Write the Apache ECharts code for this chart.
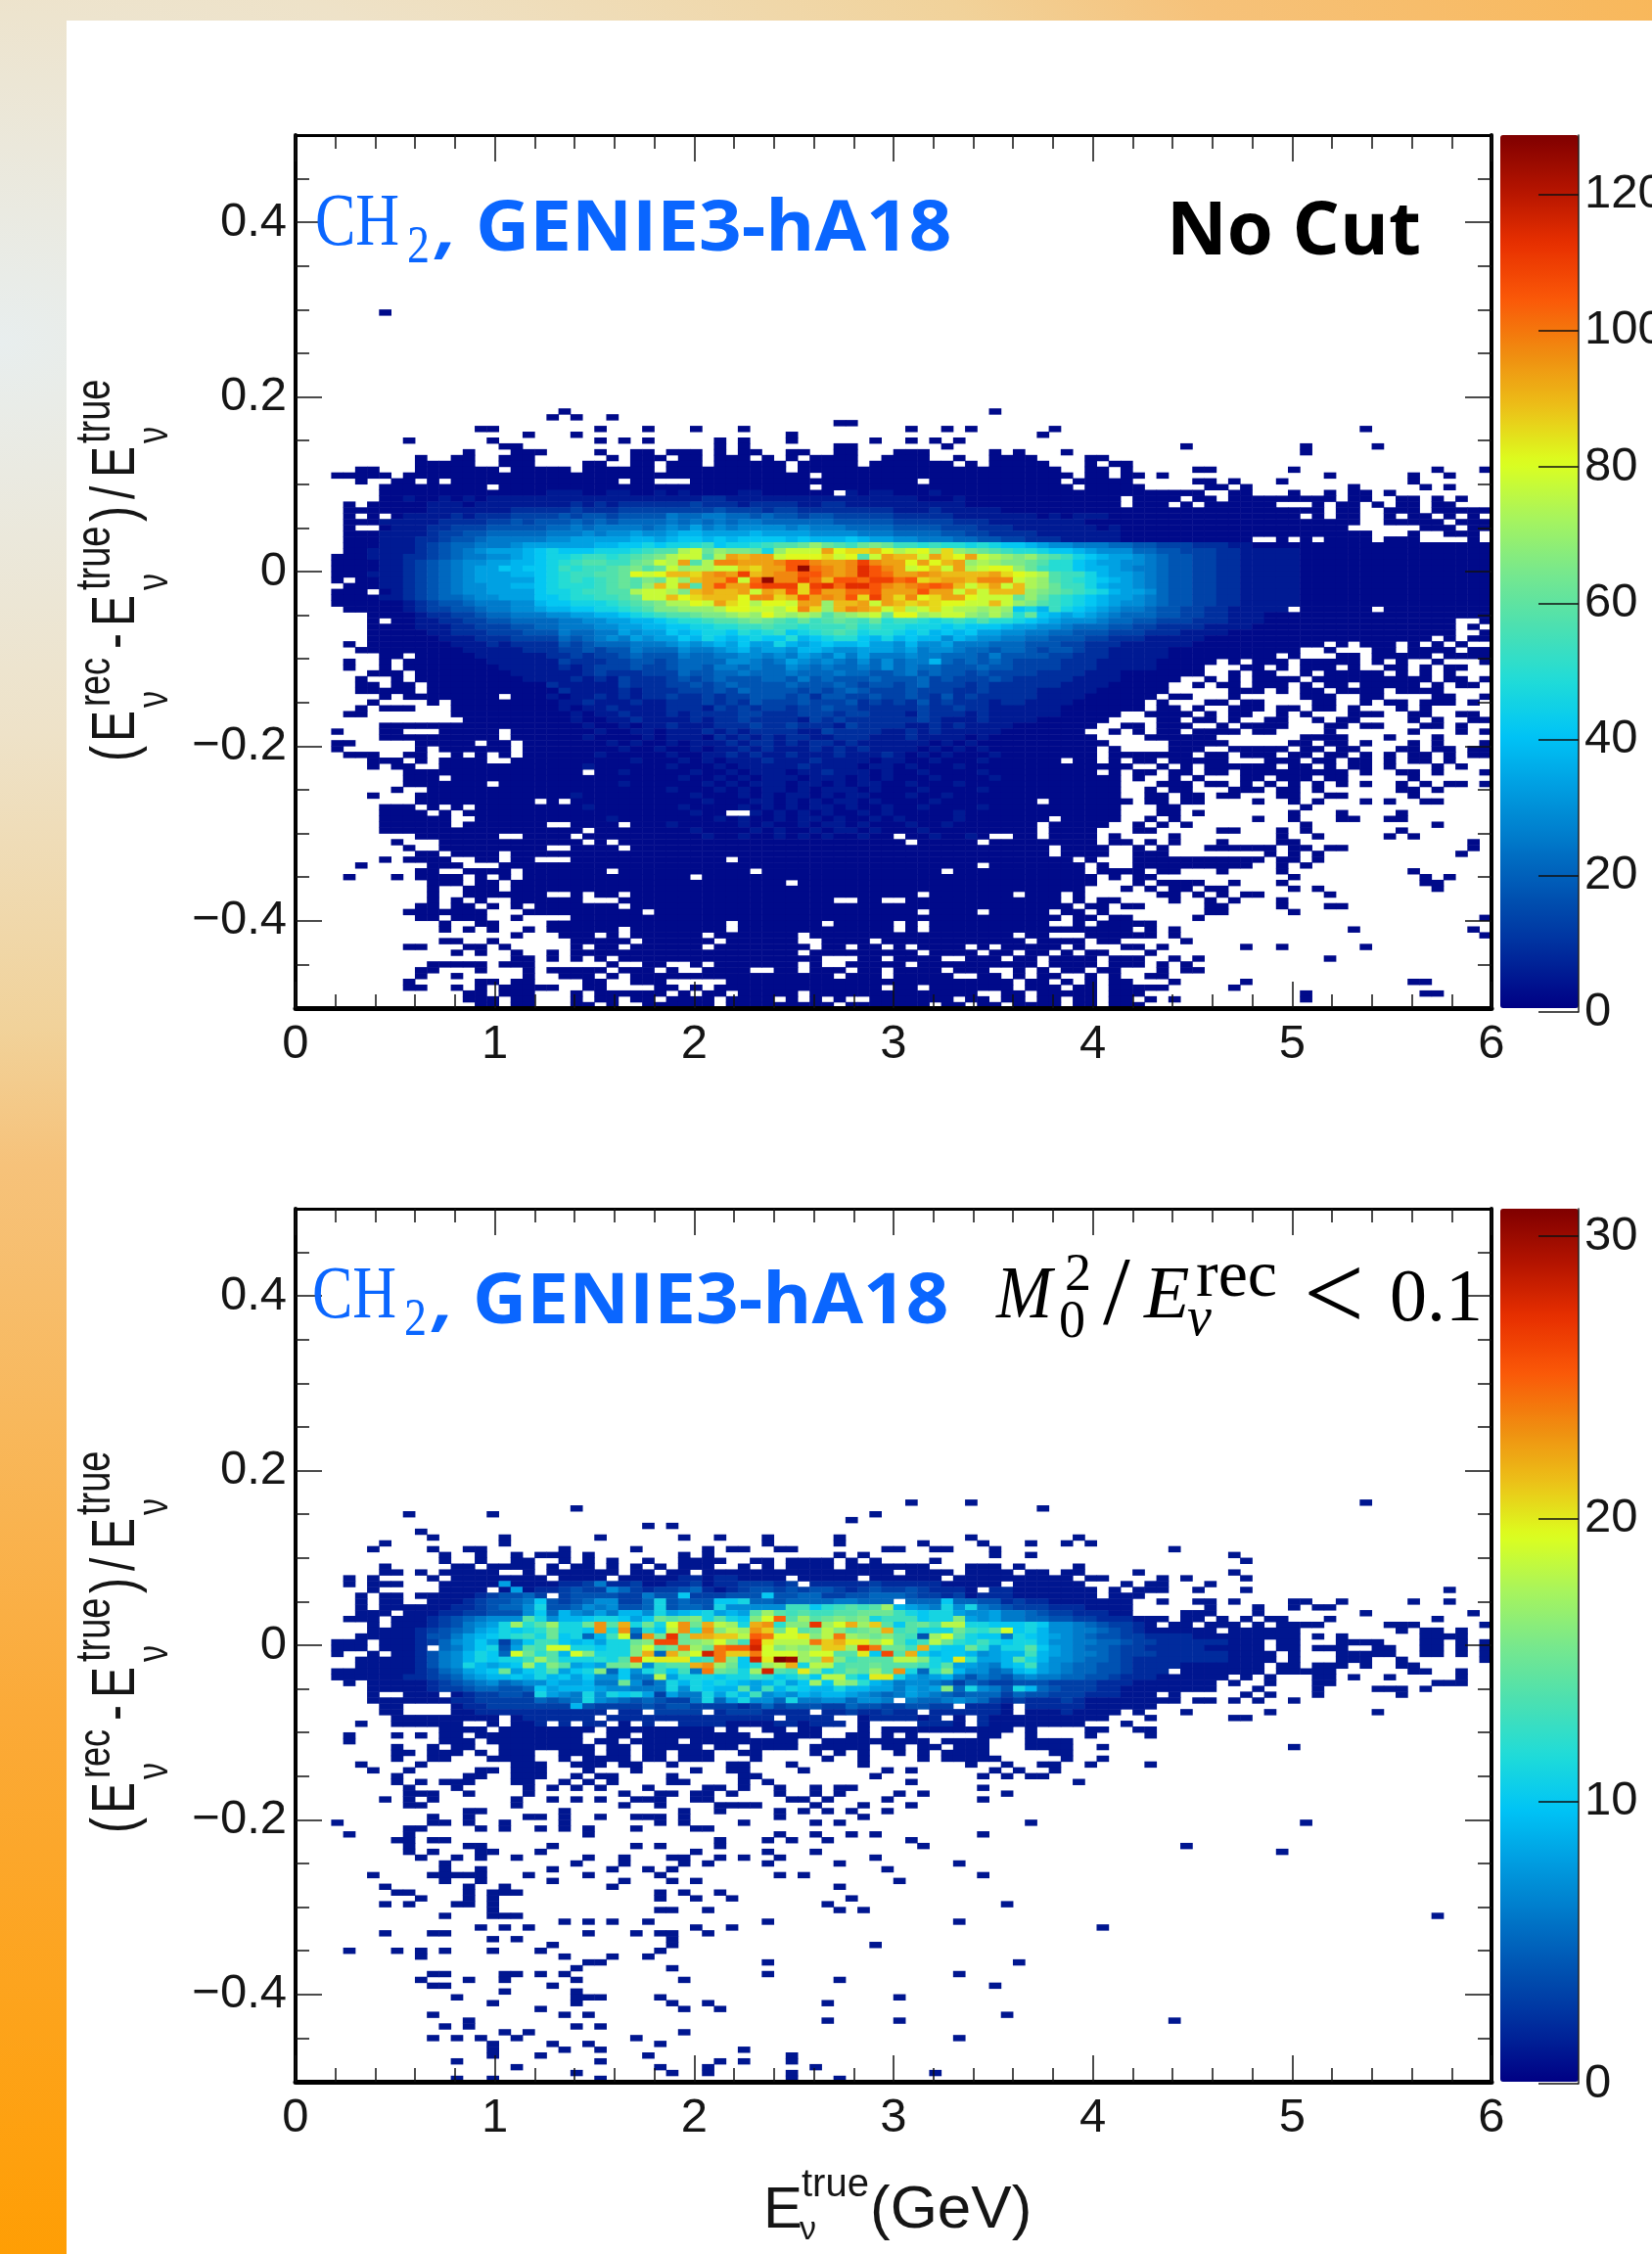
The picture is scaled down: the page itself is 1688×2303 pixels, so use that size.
<!DOCTYPE html>
<html><head><meta charset="utf-8">
<style>
html,body{margin:0;padding:0;width:1688px;height:2303px;overflow:hidden;
background:radial-gradient(ellipse 3200px 2000px at 0 350px,#e8eeee 0%,#eee2c8 20%,#f1d29a 35%,#f6c27a 42%,#f8b85c 55%,#fbaa38 70%,#ff9d00 100%);}
#sheet{position:absolute;left:68px;top:21px;right:0;bottom:0;background:#fff;}
#chart{position:absolute;left:0;top:0;width:1688px;height:2303px;}
</style></head><body><div id="sheet"></div><div id="chart"></div>
<script src="https://cdn.jsdelivr.net/npm/echarts@6/dist/echarts.min.js"></script>
<script>
// ---- data ----
const xMajor = [0,1,2,3,4,5,6];
const yMajor = [-0.4,-0.2,0,0.2,0.4];
const yMinor = [-0.45,-0.35,-0.3,-0.25,-0.15,-0.1,-0.05,0.05,0.1,0.15,0.25,0.3,0.35,0.45];
const barTicksA = [0,20,40,60,80,100,120];
const barTicksB = [0,10,20,30];
const levels = '0123456789abcdefghijklmnopqrstuvwxyz';
const palette = ['#000084','#002a9c','#0050b0','#0076c8','#009ce0','#00c4f6','#20dcd8','#4ce0b0','#78e88c','#a8f45c','#dcff1e','#ecc018','#f08c10','#fa5808','#e83000','#b41400','#800000'];

// Panel A: [row from the top, ten-column groups]; "." no entries, "_" ten empty bins; level i means about 4i+1 entries
const panelARows = [
[30,".......0.."],
[47,"_ _ ..0....... _ _ ........0."],
[48,"_ _ .0.0..0..."],
[49,"_ _ _ _ .....00..."],
[50,"_ .....00... .....0...0 ...0...0.. _ .0..0.0... ...0...... _ .........0"],
[51,"_ .........0 ...0...... _ .0........ _ ..0......."],
[52,".........0 ......0... .....0.0.0 .....0.0.. .0......0. .0.0.0...."],
[53,"_ .......00. _ .....0.0.. .....00... ....0..... _ ....0..... ....0..... 0........."],
[54,"_ ....0...00 0....0..00 .000.0.00. .00..00... 000.....0. 0...0..... _ ....0....."],
[55,"_ 0..00..000 ......0.00 0.00.000.0 .0.0000..0 000..0..00 00....00.."],
[56,"_ 00000..000 ....00..00 .000.00000 0.00000.00 00000.0.00 000...0.00"],
[57,".....00... 0000000.00 000.000000 .000000000 0.00000000 0000000000 0000..00.0 .....00... ...0...... .....0...0"],
[58,"...00000.0 0000000000 0000000000 0000000000 000.000000 0000000000 00000.00.0 0.0....... ......0... ...0..0..."],
[59,".....0..00 .0.0000000 0000000.00 ...0000000 0000000000 00.0000000 0000.00000 .....00.0. ..0....... ...0......"],
[60,".......000 000000.000 0000000000 0000000000 000.000000 0000000000 00000.0000 0.....00.0 ........0. ....0.0..."],
[61,".......000 0000000000 0111001100 1010000110 00000.1011 0001000000 0000000000 000000..00 ...0..0.00 .0........"],
[62,".......001 0010101111 1111111111 1111221111 1111111111 1100010000 000000000. 0000.00.00 0000000.00 ..00.0.0.."],
[63,"....0.0000 0111011111 1112121222 2223222122 2211221111 1111110000 000000000. 000.0.0000 00...0.00. 0.00.00..."],
[64,"....000000 0111111122 2223222333 3333343332 3322222222 1112111110 0000000000 0000000000 000000.00. .000.00000"],
[65,"....0.0.01 1112122233 3343443444 4655665545 4434433333 2222211111 1101011100 0000000000 0000.0.00. .0.00.0.0."],
[66,"....000111 1122223343 4445454555 5656565665 5555544444 3333322211 1111110000 0000000000 000000000. .00000.000"],
[67,"....0..011 1223334444 4556566665 6768676777 7676665555 4444333222 1111111010 0000000000 00000000.. ....000.00"],
[68,"....000111 1233445555 5666767787 7899888898 8887777666 5555443322 2211111110 0000000000 0000000000 ...0..000."],
[69,"....000111 2234456666 6778888899 89aa9a9aaa a9a999a988 7766655443 3222111110 0000000000 ..0.0.0000 .000....0."],
[70,"....000111 2345566678 8888899aab abbcdabbcd eefhfedfgf ddcdccbcba a987766655 4433322211 0000000000 0000000000"],
[71,"....001111 2345678889 abaaabbbcd eeijfhggfb hjjjnkllmk ijkhlhgfed ccbaa98777 5544333221 1111000000 0000000000"],
[72,"...0001112 2345667789 abbcddcdef gijjeinmnn jkkkljkejn mmjnlknjih ghfedba988 7654433221 1111000000 0000000000"],
[73,"...0000112 3456778899 abcdeeddfg jineioonnn oqqonnoron nknkmnhihg gfecca9887 7654433221 1111000000 0000000000"],
[74,"...0000112 3456788a9a abdcddefge fjhiijjmln nqvponosqo njkmjnijkk hfdcca9987 6654433221 1111000000 0000000000"],
[75,"...0001112 3456788899 abcddeefkj kmmlnonrmn ooqqonosqp nnonmmmmnl kjieddb988 7654433221 1111000000 0000000000"],
[76,"...0.00112 3456788888 abcdcdefeg fjhmnnqjpv oorpmqqprr pqlmnnmooo jihedcba98 7654433221 1111000000 0000000000"],
[77,"....000112 3456778899 abcccdefeh mjnenqnnqr rrlrspssqo nopqpmjlnj mihfddb988 7654433221 1111000000 0000000000"],
[78,"...000.012 3456778888 abbcddeeij jigmnmmnjn mqlqnnppqn nnqnnjmjmm mhgfedcb98 8754433221 1111000000 0000000000"],
[79,"...0000112 3455677888 aabccddefj jmklmmmkoo lmqnonqlrn loklnnkjjj fhfdcba988 7654433221 1111000000 0000000000"],
[80,"...0000001 2344566677 9aabbbcdef giikjnlkik kjnnhmmnjn mlmlkkjjmj hgedcba987 7654433221 1111000000 0000000000"],
[81,"....000001 2334456677 899aabbcde gghhhikkjj ikolhmonmj lijljiihih ab9dba9876 6544332211 111.000000 .000000000"],
[82,"......0000 1223345566 6778899abc deefgghihk ihiheghijf kkhijjhgig cfa9898765 5544332211 1000000000 0000000000"],
[83,"......0.00 1122334455 5566778899 abccdeefgf edfdefedfc ddcbcdcecc ba98777655 4433322211 1000000000 0000000..0"],
[84,"......0000 1112233344 5566677889 9aabbccdde ddcdddecdc cbbbabaaa9 8877655544 3322221111 0000000000 0000000.0."],
[85,"......0000 0112223334 4465566878 8a9abbacbc dabcdedbcc bab9a9a887 7665544433 3222111100 0000000000 0000000..0"],
[86,"......0000 0011122233 3354567687 88a9ba9aba ac9abcca9b 9a99798776 6554443322 2111110000 0000000000 00000.0.00"],
[87,"....0.0000 0001112122 2243455566 6787898a88 b989a99a88 7977866655 5444332221 1111100000 000000.0.0 00.0.0.0.."],
[88,".....00000 0000111112 2233434465 5576678978 8799877888 7867765545 5434432211 1110000000 0000..0... 00.0000.00"],
[89,".......00. 0000011111 1223233454 4465566776 7687686866 6766555464 4443322211 1110000000 00.0...00. 00000.0000"],
[90,"....0..0.0 0000001111 1132223344 3455557765 6876765757 5669545454 3333222111 1100000.0. 000.00000. 0.0..0...0"],
[91,"....0..0.0 0000000111 1121233343 3455466565 5765655657 5655444544 3333222111 110000...0 0.0.000.0. .00.0.00.."],
[92,"......000. 0000000011 1111232223 3354455655 5655565544 5645443433 3322221110 000000..0. 00..0.0000 0.0.0.0..."],
[93,".....0..0. 0000000001 1112121322 2343454445 5464544454 4453433343 2222211110 0000..0.0. 0000.00000 00000.00.0"],
[94,".....00.00 .000000000 0211111322 2334345444 4544454344 3453332322 2222111100 000..0.00. 000.0.00.0 0000.0.00."],
[95,".....00000 .000000000 0021111212 2233343544 4434345433 3433322322 2211111000 000.....00 0.0.00.000 0.0000...."],
[96,".......0.0 0000000.00 0101121212 2322323344 4342443343 3432423222 2211110000 00.00...0. ....000..0 0....00..0"],
[97,"......0... .0.0000000 0011211121 1222323243 3343334232 3242322212 2111100000 0.0...00.0 0....00..0 .00.000.0."],
[98,".....0.000 ...0000000 0010112111 1222132323 3233433222 2232232211 1111000000 0.00.0..00 0.00.00.0. ..0.0....."],
[99,"....00.... ...0000000 0001011211 1212222332 2233323322 2132221211 111100000. .0000.0.00 ..0.0...00 0..00..00."],
[100,".......... ....000000 0001001121 1112122322 2213232222 2232111211 11000000.. ..00.00.0. .00..0.00. ...0.0..00"],
[101,".......000 0000000000 0000100101 1211122232 2322213222 2112121111 0000000..0 0.000..0.0 000...00.0 0...00.0.."],
[102,"...0...00. ..00000.00 0000010011 0111212122 2211322221 1212111110 000000..0. 0.00.0000. 00....0... ...0...0.0"],
[103,".......000 0000000.00 0000100001 0111021212 1221122211 1211110100 0000000... .000000... ....0000.. .0...0...."],
[104,"...00..... 00000.00.0 0000001010 0101112122 1212212111 1110101000 00000000.. ...00000.. ...00.00.0 ...0.0...0"],
[105,"...0...... 0.000000.0 0000000100 1001011212 1112121211 1101010100 0000000.0. ...000..00 000.00.00. ..00.00.00"],
[106,"....000..0 0..0.0.0.0 0000010000 0100112121 1211121112 1010100010 0000000.00 00000.00.0 00.00.00.0 .0.00.0.00"],
[107,"......000. 0.0000..00 0000000010 0010101112 1112111101 1001000100 0000.00.0. 00.00000.. .000.00.00 .0.00.0..."],
[108,"......0.00 ..00000000 0000100000 0100010111 1121111011 0100010000 0000000000 ..0.0.0000 00.00.0.00 .0...0.0.."],
[109,".........0 0000000000 0000.00100 0001001011 1011211101 0010000100 0000000.0. 00.00.00.0 00000000.0 ..00.0...0"],
[110,".........0 00.0000000 0000000000 0010010101 1101110101 0001000010 000000000. 0..0.0...0 0.000.00.. ...0......"],
[111,".........0 000000.000 0000000100 0000101011 1011010110 0100010000 000000000. ..000.00.0 .0.0.0.0.0 ..0.0.00.0"],
[112,"........0. .000000000 0000000000 0100010101 1010111010 0010000100 000000000. .0.00...00 0.00.0.... ..00.0...."],
[113,"......0... 0000000000 0001000000 0001000101 0110101100 0100100000 000000000. .00.00.00. ..00..00.. ...0......"],
[114,".......... 0000000000 .0.0000000 0000100011 0101011010 0001000000 00.0000000 .00.00.... 0..0.0...0 .0..00...."],
[115,".......000 .0.0.00000 0000100000 0010000101 0101101001 0010000100 000000000. ..00...... ....0....."],
[116,".......000 0.0.000000 0000000000 000100..10 1010100101 0000010000 000000000. ..00.0.... ...0...0.. ..0......."],
[117,".......000 000..00000 0000001000 0000010100 1011010010 1000010000 000.00000. .0.0...... 0..0...00. .00......."],
[118,".......000 000.000000 0..0000.00 0100000101 0010110100 0100100000 00.00000.. 0.0.0..... ....0..... .....0...."],
[119,".......000 0000000000 0000.00000 0001000010 1001011010 0010000000 00.0000... 00.....00. ..0.0..... ..0......."],
[120,".......... 0000000..0 000.000000 0000100100 1010100100 .0010010.. 00.0000.0. ...0...... ..0..0.... .0.0......"],
[121,"........0. ..00000000 0000.0.000 0000000000 0000000000 0.00000.00 0000000.00 .0.0...0.. ..00...... ........0."],
[122,".........0 ..00000000 0..0000.00 0000000000 0000000000 0000000000 000.0000.. 0.0...0000 00.00.00.. ........0."],
[123,".......... 00.0000.00 0000000000 0000000000 0000000000 0000000000 000.0000.. 000....... .0.0.0.... .......0.."],
[124,".......0.0 000..00.00 ...0000000 000000.000 0000000000 0000000000 00000.0... 0000000000 0.00.0.... .........."],
[125,".....0.... .000...000 0000000000 0000000000 0000000000 0000000.00 000000.0.. 0000000000 ..0.0....."],
[126,".......... 00..0000.0 000000.000 00000000.0 0000000000 0000.00000 000000.000 0.00...0.. ..0....... ...0......"],
[127,"....0...0. 0000.0.0.0 0000000000 000.000000 0000000000 0000000000 0000000.0. 00........ ...0...... ....0.0..."],
[128,".......... .000.00.00 0000000000 0000000000 0.00000000 0000000000 0000000... 0.0000..0. ..0....... ....00...."],
[129,".......... .0..000.00 0000000000 0000000000 0000000000 0000000000 000000...0 .0.00.00.. ...0.0.... .....0...."],
[130,".......... .0..000000 0..0.00.00 0000000000 0000000000 00.0000000 .000.0.... ..00.0.0.0 0.....0..."],
[131,".......... .0.0.0..00 0000...000 0000000000 00000..00. .000000000 0000.0.00. ...0..0.0. ..0......."],
[132,".......... 00.00.0.0. 0000000.00 0000000000 0000000000 0000000000 00000.00.0 0.....00.. ..0...00.. .........."],
[133,".........0 000000...0 000000000. 0000000000 0000000000 00.0000.00 000.00.0.. ......00.. ...0......"],
[134,".......... 00.000..0. ...0000000 0000000000 0000000000 0000000000 0000.00.00 .....0.... .......... .........0"],
[135,".......... ..0..00... .000000000 000000.000 0000.00000 .0.0000000 000..0.000 00........"],
[136,".......... ..0.0.0..0 .000000.00 000000.000 0000000000 .0.0000000 0000000000 .0.0...... ........0. ........0."],
[137,".......... ........0. ..000.0.00 0000.00000 00.0000000 0000000000 .00...0000 00.0...... .......... .........0"],
[138,".......... ..00..0... ...00000.0 00000.0000 00..0000.0 0000000000 0.0000.00. ....0..... .........."],
[139,".........0 0...00.0.. ...0.00.00 0000.00000 000.00.00. 0.0000.0.0 0000.0...0 0.0......0 ..0......0"],
[140,".......... ...0.0..0. .0.0000000 0000000000 00.0000000 00.0000.00 .00.0.00.. .0........"],
[141,".......... ........00 .0.0.0.000 0000000000 0000...00. 0000..000. 00.0000.00 0..0.0.... ......0..."],
[142,".......... .00000.000 ......0..0 0..0.00000 00.0..0000 0.00000000 00.0000.00 0.0.0....."],
[143,".......... 00...0...0 .00000.000 .0..0000.. 00.000.00. 0000.000.. 0.0.00.00. ..0.00...."],
[144,".......... 0..0.....0 ..000.0.00 0000000000 00000.000. 00000..00. 0.00..0.0. .00......."],
[145,".........0 .....00.00 ....00..00 0.....0000 0000000000 0000000000 .00.0.0.00 ...0.....0 .......... ...00....."],
[146,".........0 0..0.0.000 00..00.... 00.0.00000 000000000. 00.0000000 .000.00.00 000.....0."],
[147,".......... ....00.000 ...0.00000 0.0.00.000 00.0000000 0000000..0 0.00000.00 0......... ....0..... ....00...."],
[148,".......... ....000.00 ...0.00.00 .0000.0000 .0.0.0..00 00000.00.0 0.00.00.00 .0.0...... ....0....."],
[149,".......... .....00.00 ...00.0..0 00000.0000 00000.0000 000.00.00. 0000.00.00 0........."]
];

// Panel B dense rows: level i means i+1 entries
const panelBRows = [
[61,".......0.. ...00.0000 .0.00.0.0. 0.000..0.0 .0000.0000 000...000. 0....0...."],
[62,".......00. 0.00000..0 .000000.00 .00.000000 0000000000 .0000.0000 .00.00.... 0.......0."],
[63,"....0.0... .0.0000000 0.0000.000 0011011000 0.00000.00 0000.00000 00000.00.. ..0.0....0"],
[64,"....0.000. ..00000700 0011251120 0112011222 12.1111121 111100000. 000000...0 .00...0..."],
[65,"......0... ..0000.070 1123226421 2234101233 2323321232 2321110.11 0000000.0. 000..0...0 .......... ......0..."],
[66,".....0.00. 0000012334 2.23333225 3392223339 3344223344 4322120111 0000000.00 0........."],
[67,".....0.00. .000123345 9323466224 a343399a44 3444455444 .444944331 2110000000 ..0..00.0. ...00..0.. ...0..0..."],
[68,".....0.000 0001123446 a334656334 a3443a6666 6cc9bcdcdg 8765a6a543 2221110000 ......0... 0..0.00..."],
[69,".....000.0 0011223336 9486575886 a789a787dg dcdccddeee ca9aa76675 5432211100 ....000... 0........0 ........0."],
[70,"....000.00 012345666d a6889aa979 edefada9fi odgdefefac cc9aaf7675 5443322111 000.00.0.0 .00...0... .....0...."],
[71,"......0.00 0123567agb dgaaemdlae aimelhgalm bffqgilgkd 9dechhaa99 9a96654322 10.00.000. 0.0000.... .000.....0"],
[72,"......0000 1234578a9a beaa9mam5b 9hmbmfhgmk eidehfdefl cdaaaecbdi 9a86655432 1000000.00 0000...... ..0.00.0.."],
[73,".....00000 1335789abc ae9a48ci3m eqellkkhon iijfhngfef dc3gida995 a987654332 2111100000 0000.0.0.. ....0000.."],
[74,"...000.000 1246797269 cc9897aaef ppefgifcqj hhhnkljjgi dachebaca9 aa86655443 2211111100 0.00...000 0...00.0.0"],
[75,"...000.000 1.4579a37d ciiaa9aafi dengenoori fgfgkkgqne ecla99eb7a ad97654432 2111110000 0.00.000.. 00..00.0.0"],
[76,"...0..0.00 13568a94ie bd8ifaaafl 4lgirnkkni iigiiddj9p dla8998678 8c87655432 2211111100 00.0...000 00..00.0.0"],
[77,".....00000 13568a9aac gdaaabadoi jjjbcnf9rj utgflfcddd hhfa9jb778 da86654432 1111111100 00.0...000 ..0......0"],
[78,".....00000 1356a8789g afd787eeg6 cddlmge9bg hlahhcdded ddcad77658 9c76544332 1111000000 0.00.000.0 ..00......"],
[79,"...0000000 1245789e79 ad79af496a c9c5nedagr dcjfacedgd ma4bf86645 8976544332 111.000000 0.00000... ...00..0.."],
[80,"...0000001 1234678898 a897966955 h7aaa9aacb 9ac9hhb9jj a767853543 5655443321 11000000.0 .0...00.0. .0.....0.."],
[81,"....0.0000 0123456456 6877855e63 5a8a9a9878 a79g9gfb87 5665424322 3332222111 0000000.0. .0...00... .....000.."],
[82,"......0000 0122344334 9788876655 5a6a988d7c 8a988a8877 5767f4a653 a843222110 0000000... 0....0.... 000.0....."],
[83,"......0..0 00.0122332 a765a6a9a7 2755a7a8c6 7687887654 5765434442 4332221110 00.0.....0 .0...0.... ..0......."],
[84,"......0000 0001122222 4345a65434 3225a47a66 4a55664665 .544565421 2111210000 0000.00.0. 0..0......"],
[85,".......00. ...0112222 2228322223 2332222124 2333224332 23322.1110 .111110000 00........"],
[86,".......00. ...0011111 111111.11. 2222.12221 111.112112 11.1111110 .00010000. 0...0..... .0........ 0........."],
[87,"........00 0000000.01 11111.1111 1111111111 .1111..011 1101.0.100 00000000.. .0......00"],
[88,".....0..00 0000..0.00 1.1.11.0.1 ..11110000 110111.0.. ..1110.100 000000...0"],
[89,".......... ..0000.000 00000.0000 00000.0..0 0.00...0.0 0000000000 .0....00.. 00........"],
[90,"....0...0. 0.00.00000 0000..00.0 00000000.. 0000..00.0 .0.....00. .0....0... .0........"],
[91,"....0..... ..000.0000 0000.00.00 00.0000000 00..000000 000.0000.. .0000....."],
[92,"........0. .0.00..000 00000.00.0 0000.00.00 00.00000.0 0.00.000.. .0000..0.. .......... ...0......"]
];

// Panel B lone bins, one entry each: [row from the top, columns...]
const panelBSparse = [
[50,51,56,89],[51,23,62],[52,9,16,48],[53,46],[54,29,31],[55,10],
[56,11,17,25,32,35,39,45,56,65],[57,7,17,39,45,52,57,61,64,66],
[58,6,11,14,15,22,28,34,36,37,40,41,49,50,53,54,58,73],
[59,12,15,18,20,21,22,24,32,34,45,47,58,61,78],
[60,12,15,18,19,22,24,26,29,32,33,34,35,38,39,41,42,43,44,46,48,53,79],
[93,8,9,11,12,13,15,17,18,19,22,23,24,26,27,29,30,32,33,34,37,38,43,45,47,50,52,54,55,56,57,63,64],
[94,8,11,12,16,17,18,19,22,24,25,26,27,29,30,32,33,34,38,44,47,52,54,55,56,57,58,64,67],
[95,5,10,18,19,20,23,24,25,27,28,31,36,37,41,47,56,59,62,63,66,71],
[96,6,9,15,16,18,19,20,24,28,33,36,37,42,49,51,58,60,63],
[97,8,14,15,18,19,20,23,25,26,31,37,38,48,57,59,61,62],
[98,8,10,12,13,14,18,19,22,24,26,31,32,37,39,51,65],
[99,9,13,19,21,23,25,29,34,35,37,40,43,45,46,57],
[100,9,10,11,14,19,27,30,31,33,34,36,40,43,45,50,52,59],
[101,7,9,11,18,21,23,25,28,29,30,33,34,41,42,44,49,57],
[102,9,10,18,27,30,35,36,37,38,43,47,51],
[103,14,15,22,32,35,40,42,44,46,49],
[104,11,14,19,20,22,25,28,29,30,32,40,47],
[105,3,11,12,14,17,22,30,32,37,43,45,61,84],
[106,9,10,15,17,20,22,24,28,33,34],
[107,4,9,24,40,43,46,48,57],
[108,8,9,11,12,35,39,41,44,51],
[109,9,14,15,21,28,30,35,52,74],
[110,9,11,15,16,20,33,39,43,82],
[111,10,13,15,18,24,27,31,32,35,37,40,48],
[112,12,23,27,32,34,39,45,55],
[113,12,15,21,26,29,31,49],
[114,6,11,12,13,14,15,19,24,30,40,42,57],
[115,12,15,21,27,31,33,50],
[116,7,14,17,26,45],
[117,8,9,14,16,17,18,30,32,35],
[118,10,14,16,30,33,36,46],
[119,7,9,13,14,16,44,59],
[120,16,30,31,34,45,47],
[121,12,16,17,18,95],
[122,22,24,26,29,39,55],
[123,15,17,19,33,36,67],
[124,7,11,12,24,28,30,31,34],
[125,16,18,31],[126,21,31,48],[127,4,8,10,12,16,20,30],[128,10,22,26,29],
[129,24,25,39,60],[130,23,31],[131,11,12,17,18,20,22,39,55],[132,10,14,17,23,32,45],
[133,11,12,21,58],[134,17,23],[135,13,23,24,25,30,50],[136,16,23,31,34,44],
[137,20,32,35],[138,11,22,24,59],[139,14,44,50,73],[140,12,14,23,25],[141,17,19,32],
[142,11,13,15,18,28,55],[143,16,21,24,30],[144,16,22,25,37],[145,16,20,29,41],
[146,13,25,35,37,41],[147,18,30,34,43],[148,23,31,34,41,53],[149,13,16,25,41,45]
];

// ---- build ----
const NX = 100, NY = 150;
const xBins = Array.from({length:NX},(_,i)=>i), yBins = Array.from({length:NY},(_,i)=>i);
function cells(rows, toValue, sparse){
  const out = [];
  rows.forEach(([r,s])=>{
    const t = s.replace(/\s/g,'').replace(/_/g,'..........');
    for(let c=0;c<t.length&&c<NX;c++){
      const i = levels.indexOf(t[c]);
      if(i>=0) out.push([c,NY-1-r,toValue(i)]);
    }
  });
  (sparse||[]).forEach(([r,...cols])=>cols.forEach(c=>out.push([c,NY-1-r,1])));
  return out;
}
const dataA = cells(panelARows,i=>i===0?2:i*4+1);
const dataB = cells(panelBRows,i=>i+1,panelBSparse);

const INK='#151515', SANS='"Liberation Sans",Arial,sans-serif', SERIF='"Liberation Serif",serif';
const tickFont = {color:INK,fontFamily:SANS,fontSize:49,padding:[11,0,0,0]};
const xTickFont = {color:INK,fontFamily:SANS,fontSize:49};
const fmtY = v => v===0?'0':(v<0?'\u2212':'')+Math.abs(v).toFixed(1);
const xAxes=[],yAxes=[],grids=[],series=[],maps=[];
function panel(top,data,barMax,barTicks,scaleMax,scaleHeight){
  const g = grids.length;
  grids.push({left:302,top:top,width:1222,height:892,outerBoundsMode:'none'});
  const bx = xAxes.length, by = yAxes.length;
  xAxes.push({type:'category',gridIndex:g,data:xBins,show:false,position:'bottom'});
  yAxes.push({type:'category',gridIndex:g,data:yBins,show:false,position:'left'});
  const xv = (pos,w,labels)=>({type:'value',gridIndex:g,position:pos,min:0,max:6,z:6,
    axisLine:{show:true,onZero:false,lineStyle:{color:'#000',width:w}},splitLine:{show:false},
    axisTick:{show:true,inside:true,length:27,lineStyle:{color:'#111',width:1.5},customValues:xMajor},
    minorTick:{show:false},
    axisLabel:labels?{show:true,margin:13,customValues:xMajor,...xTickFont}:{show:false}});
  const xm = pos=>({type:'value',gridIndex:g,position:pos,min:0,max:6,z:6,interval:0.2,
    axisLine:{show:false,onZero:false},splitLine:{show:false},axisLabel:{show:false},
    axisTick:{show:true,inside:true,length:14,lineStyle:{color:'#111',width:1.5}}});
  xAxes.push(xv('bottom',5,true),xv('top',3,false),xm('bottom'),xm('top'));
  const yv = (pos,w,labels)=>({type:'value',gridIndex:g,position:pos,min:-0.5,max:0.5,z:6,
    axisLine:{show:true,onZero:false,lineStyle:{color:'#000',width:w}},splitLine:{show:false},
    axisTick:{show:true,inside:true,length:27,lineStyle:{color:'#111',width:1.5},customValues:yMajor},
    axisLabel:labels?{show:true,margin:9,customValues:yMajor,formatter:fmtY,...tickFont}:{show:false}});
  const ym = pos=>({type:'value',gridIndex:g,position:pos,min:-0.5,max:0.5,z:6,
    axisLine:{show:false,onZero:false},splitLine:{show:false},axisLabel:{show:false},
    axisTick:{show:true,inside:true,length:14,lineStyle:{color:'#111',width:1.5},customValues:yMinor}});
  yAxes.push(yv('left',4,true),yv('right',4,false),ym('left'),ym('right'));
  const si = series.length;
  series.push({type:'heatmap',xAxisIndex:bx,yAxisIndex:by,data:data,progressive:0,animation:false,silent:true,itemStyle:{borderWidth:0}});
  maps.push({type:'continuous',seriesIndex:si,dimension:2,min:0,max:barMax,calculable:false,hoverLink:false,
    left:1533,top:top,itemWidth:80,itemHeight:892,padding:0,text:null,showLabel:false,z:3,
    inRange:{color:palette}});
  // colour-bar scale
  const gb = grids.length;
  grids.push({left:1533,top:top,width:80,height:scaleHeight,outerBoundsMode:'none'});
  xAxes.push({type:'value',gridIndex:gb,show:false,min:0,max:1});
  yAxes.push({type:'value',gridIndex:gb,position:'right',min:0,max:scaleMax,z:8,
    axisLine:{show:true,onZero:false,lineStyle:{color:'#222',width:1.5}},splitLine:{show:false},
    axisTick:{show:true,inside:true,length:41,lineStyle:{color:'#111',width:1.5},customValues:barTicks},
    axisLabel:{show:true,margin:6,hideOverlap:false,customValues:barTicks,...tickFont}});
}
panel(138,dataA,128.3,barTicksA,128.7,896);
panel(1235,dataB,31,barTicksB,30.97,894);

// ---- text ----
function txt(x,base,text,size,o){
  o=o||{};
  const sy=o.sy||1, sx=o.sx||1;
  return {type:'text',x:x,y:base-0.34*size*sy,scaleX:sx,scaleY:sy,z:20,silent:true,style:{
    text:text,fontSize:size,fontFamily:o.font||SANS,fontWeight:o.weight||'normal',fontStyle:o.style||'normal',
    fill:o.fill||INK,align:'left',verticalAlign:'middle'}};
}
const BLUE='#0a66ff', OPEN='"Open Sans","Noto Sans",sans-serif';
function blue(dx,dy){return [
  txt(322+dx,256+dy,'CH',62,{font:SERIF,fill:BLUE,sy:1.22}),
  txt(416+dx,272+dy,'2',46,{font:SERIF,fill:BLUE,sy:1.2}),
  txt(447+dx,260+dy,',',72,{font:OPEN,weight:'bold',style:'italic',fill:BLUE}),
  txt(486+dx,260+dy,'GENIE3-hA18',72,{font:OPEN,weight:'bold',fill:BLUE,sx:1.06})
];}
function yTitle(dy){
  const S=48, sup=(u,t,s)=>txt(u,-20,t,s), sub=u=>txt(u,25,'\u03bd',34);
  return {type:'group',x:141,y:778+dy,rotation:Math.PI/2,scaleY:1.3,z:20,children:[
    txt(0,0,'(',S),txt(20,0,'E',S),sup(56,'rec',36),sub(55),
    txt(115,0,'-',S),txt(138,0,'E',S),sup(175,'true',38),sub(175),
    txt(245,0,')',S),txt(268,0,'/',S),txt(290,0,'E',S),sup(325,'true',38),sub(325)]};
}
const gfx = [
  ...blue(0,0),...blue(-3,1096),
  txt(1192,264,'No Cut',76,{font:OPEN,weight:'bold',fill:'#000'}),
  yTitle(0),yTitle(1095),
  txt(780,2280,'E',60),txt(819,2247,'true',40),txt(817,2290,'\u03bd',34),txt(889,2280,'(GeV)',62),
  txt(1018,1352,'M',76,{font:SERIF,style:'italic',fill:'#000',sx:0.9}),
  txt(1088,1322,'2',54,{font:SERIF,fill:'#000'}),
  txt(1082,1370,'0',54,{font:SERIF,fill:'#000'}),
  txt(1127,1360,'/',100,{font:SERIF,fill:'#000'}),
  txt(1169,1352,'E',76,{font:SERIF,style:'italic',fill:'#000'}),
  txt(1222,1329,'rec',68,{font:SERIF,fill:'#000'}),
  txt(1213,1368,'\u03bd',56,{font:SERIF,style:'italic',fill:'#000'}),
  txt(1332,1367,'<',110,{font:SERIF,fill:'#000'}),
  txt(1420,1355,'0.1',76,{font:SERIF,fill:'#000'})
];

const chart = echarts.init(document.getElementById('chart'),null,{renderer:'canvas',width:1688,height:2303});
chart.setOption({animation:false,backgroundColor:'transparent',grid:grids,xAxis:xAxes,yAxis:yAxes,series:series,visualMap:maps,graphic:{elements:gfx}});
</script></body></html>
